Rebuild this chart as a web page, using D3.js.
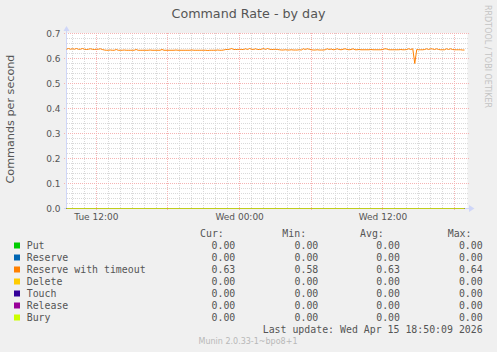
<!DOCTYPE html>
<html>
<head>
<meta charset="utf-8">
<script src="https://cdn.jsdelivr.net/npm/d3@7"></script>
<style>
html,body{margin:0;padding:0;background:#f0f0f0;}
svg{display:block;}
</style>
</head>
<body>
<svg id="chart" width="497" height="352"></svg>
<script>
// ---------- data ----------
const title = "Command Rate - by day";
const yAxisTitle = "Commands per second";
const seriesNames = ["Put","Reserve","Reserve with timeout","Delete","Touch","Release","Bury"];
const seriesColors = ["#00cc00","#0066b3","#ff8000","#ffcc00","#330099","#990099","#ccff00"];
const rangeStart = new Date(2026,3,14,9,30);
const rangeEnd = new Date(2026,3,15,19,0);
const sampleStart = new Date(2026,3,14,9,30);
const sampleStepMinutes = 10;
// Reserve with timeout (10-minute samples)
const reserveTimeoutValues = [
0.637,0.640,0.637,0.639,0.637,0.640,0.637,0.637,0.640,0.637,0.636,0.637,0.639,0.637,0.636,0.637,0.637,0.639,0.636,0.634,
0.633,0.633,0.634,0.633,0.633,0.636,0.633,0.633,0.633,0.634,0.633,0.633,0.633,0.633,0.633,0.636,0.633,0.633,0.633,0.633,
0.633,0.633,0.634,0.633,0.633,0.633,0.633,0.633,0.636,0.633,0.633,0.633,0.633,0.633,0.633,0.634,0.633,0.633,0.633,0.633,
0.633,0.633,0.633,0.634,0.633,0.633,0.633,0.633,0.633,0.633,0.633,0.632,0.633,0.633,0.633,0.633,0.634,0.633,0.633,0.634,
0.636,0.636,0.637,0.640,0.636,0.636,0.636,0.637,0.636,0.636,0.639,0.636,0.640,0.637,0.636,0.639,0.636,0.636,0.637,0.640,
0.636,0.640,0.637,0.636,0.636,0.637,0.636,0.635,0.634,0.634,0.635,0.634,0.634,0.635,0.634,0.634,0.634,0.635,0.634,0.639,
0.636,0.639,0.637,0.635,0.634,0.634,0.635,0.634,0.634,0.634,0.635,0.639,0.636,0.638,0.635,0.636,0.639,0.636,0.635,0.637,
0.639,0.636,0.635,0.636,0.639,0.635,0.635,0.636,0.635,0.635,0.635,0.635,0.635,0.636,0.635,0.635,0.635,0.635,0.635,0.636,
0.639,0.638,0.635,0.635,0.635,0.635,0.635,0.635,0.636,0.635,0.635,0.636,0.639,0.636,0.639,0.580,0.636,0.635,0.635,0.635,
0.636,0.639,0.636,0.639,0.638,0.636,0.639,0.636,0.635,0.635,0.635,0.639,0.636,0.639,0.636,0.635,0.635,0.635,0.635,0.634,0.634
];
// the other six series are flat at zero over the whole range
const zeroSeriesValues = [0, 0];
const yTicks = [0.0,0.1,0.2,0.3,0.4,0.5,0.6,0.7];
const xTickLabelTimes = [new Date(2026,3,14,12,0), new Date(2026,3,15,0,0), new Date(2026,3,15,12,0)];
const legendCur = ["0.00","0.00","0.63","0.00","0.00","0.00","0.00"];
const legendMin = ["0.00","0.00","0.58","0.00","0.00","0.00","0.00"];
const legendAvg = ["0.00","0.00","0.63","0.00","0.00","0.00","0.00"];
const legendMax = ["0.00","0.00","0.64","0.00","0.00","0.00","0.00"];
const lastUpdate = "Last update: Wed Apr 15 18:50:09 2026";
const watermark = "RRDTOOL / TOBI OETIKER";
const footer = "Munin 2.0.33-1~bpo8+1";

// ---------- drawing ----------
const svg = d3.select("#chart");
const W = 497, H = 352;
svg.append("rect").attr("width",W).attr("height",H).attr("fill","#f0f0f0");

const x = d3.scaleTime().domain([rangeStart, rangeEnd]).range([66.5, 466.5]);
const y = d3.scaleLinear().domain([0, 0.7]).range([208.5, 33.5]);
const px = v => Math.round(v - 0.5) + 0.5;

// canvas
svg.append("rect").attr("x",66.5).attr("y",33).attr("width",401).attr("height",175.5).attr("fill","#ffffff");

const grid = svg.append("g").attr("shape-rendering","crispEdges");
// minor grid
const minorX = d3.timeHour.range(rangeStart, rangeEnd).filter(d => d.getHours() % 6 !== 0);
const minorY = d3.range(0, 36).map(i => i*0.02).filter((v,i) => i % 5 !== 0);
grid.selectAll(".mgx").data(minorX).join("line")
  .attr("x1",d=>px(x(d))).attr("x2",d=>px(x(d))).attr("y1",33).attr("y2",208)
  .attr("stroke","#d9d9d9").attr("stroke-dasharray","1,1");
grid.selectAll(".mgy").data(minorY).join("line")
  .attr("x1",67).attr("x2",469).attr("y1",d=>px(y(d))).attr("y2",d=>px(y(d)))
  .attr("stroke","#d9d9d9").attr("stroke-dasharray","1,1");
// major grid
const majorX = d3.timeHour.range(rangeStart, rangeEnd).filter(d => d.getHours() % 6 === 0);
grid.selectAll(".Mgx").data(majorX).join("line")
  .attr("x1",d=>px(x(d))).attr("x2",d=>px(x(d))).attr("y1",33).attr("y2",211)
  .attr("stroke","#f5b3b3").attr("stroke-dasharray","1,1");
grid.selectAll(".Mgy").data(yTicks.slice(1)).join("line")
  .attr("x1",64).attr("x2",469).attr("y1",d=>px(y(d))).attr("y2",d=>px(y(d)))
  .attr("stroke","#f5b3b3").attr("stroke-dasharray","1,1");

// axes
const axisColor = "#cfd6f8";
grid.append("line").attr("x1",66.5).attr("x2",66.5).attr("y1",209).attr("y2",30).attr("stroke",axisColor);
grid.append("line").attr("x1",64).attr("x2",470).attr("y1",208.5).attr("y2",208.5).attr("stroke",axisColor);
svg.append("path").attr("d","M63.5,31 L69.5,31 L66.5,26 Z").attr("fill",axisColor);
svg.append("path").attr("d","M469,205 L469,212 L474.5,208.5 Z").attr("fill",axisColor);

// tick labels
const fontColor = "#555";
svg.selectAll(".yl").data(yTicks).join("text")
  .attr("x",60.5).attr("y",d=>y(d)+3.2).attr("text-anchor","end")
  .attr("font-family","DejaVu Sans").attr("font-size",9).attr("fill",fontColor)
  .text(d=>d3.format(".1f")(d));
const fmt = d3.timeFormat("%a %H:%M");
svg.selectAll(".xl").data(xTickLabelTimes).join("text")
  .attr("x",d=>x(d)).attr("y",220).attr("text-anchor","middle")
  .attr("font-family","DejaVu Sans").attr("font-size",9).attr("fill",fontColor)
  .text(d=>fmt(d));

// series
const line = d3.line().x(d=>x(d.t)).y(d=>y(d.v));
const step = sampleStepMinutes*60000;
const reserveData = reserveTimeoutValues.map((v,i)=>({t:new Date(+sampleStart + i*step), v}));
const lastSample = reserveData[reserveData.length-1].t;
const plot = svg.append("g");
seriesNames.forEach((name,i)=>{
  let data;
  if (name === "Reserve with timeout") data = reserveData;
  else data = zeroSeriesValues.map((v,k)=>({t: k===0 ? sampleStart : lastSample, v}));
  plot.append("path").datum(data).attr("d",line)
    .attr("fill","none").attr("stroke",seriesColors[i]).attr("stroke-width",1)
    .attr("stroke-opacity", name === "Reserve with timeout" ? 1 : 0.8);
});

// title
svg.append("text").attr("x",248.5).attr("y",18.3).attr("text-anchor","middle")
  .attr("font-family","DejaVu Sans").attr("font-size",12.7).attr("fill",fontColor).text(title);
svg.append("text").attr("transform","translate(14,119) rotate(-90)").attr("text-anchor","middle")
  .attr("font-family","DejaVu Sans").attr("font-size",11.2).attr("fill",fontColor).text(yAxisTitle);
svg.append("text").attr("transform","translate(485,56.5) rotate(90)").attr("text-anchor","middle")
  .attr("font-family","DejaVu Sans").attr("font-size",8).attr("fill","#c4c4c4").text(watermark);

// legend
const mono = "DejaVu Sans Mono";
const lfs = 9.9;
const headers = [["Cur:",200],["Min:",282.3],["Avg:",360],["Max:",447.7]];
svg.selectAll(".hd").data(headers).join("text")
  .attr("x",d=>d[1]).attr("y",237).attr("font-family",mono).attr("font-size",lfs).attr("fill",fontColor)
  .text(d=>d[0]);
const rowY = i => 245.5 + i*12;
const leg = svg.append("g");
seriesNames.forEach((name,i)=>{
  leg.append("rect").attr("x",14).attr("y",rowY(i)-3).attr("width",6).attr("height",6).attr("fill",seriesColors[i]);
  leg.append("text").attr("x",26.7).attr("y",rowY(i)+3.6).attr("font-family",mono).attr("font-size",lfs).attr("fill",fontColor).text(name);
  [[legendCur,235.3],[legendMin,318.3],[legendAvg,400],[legendMax,482.7]].forEach(([arr,xr])=>{
    leg.append("text").attr("x",xr).attr("y",rowY(i)+3.6).attr("text-anchor","end")
      .attr("font-family",mono).attr("font-size",lfs).attr("fill",fontColor).text(arr[i]);
  });
});
svg.append("text").attr("x",482.7).attr("y",333).attr("text-anchor","end")
  .attr("font-family",mono).attr("font-size",lfs).attr("fill",fontColor).text(lastUpdate);
svg.append("text").attr("x",248).attr("y",344).attr("text-anchor","middle")
  .attr("font-family","DejaVu Sans").attr("font-size",8).attr("fill","#b8b8b8").text(footer);
</script>
</body>
</html>
